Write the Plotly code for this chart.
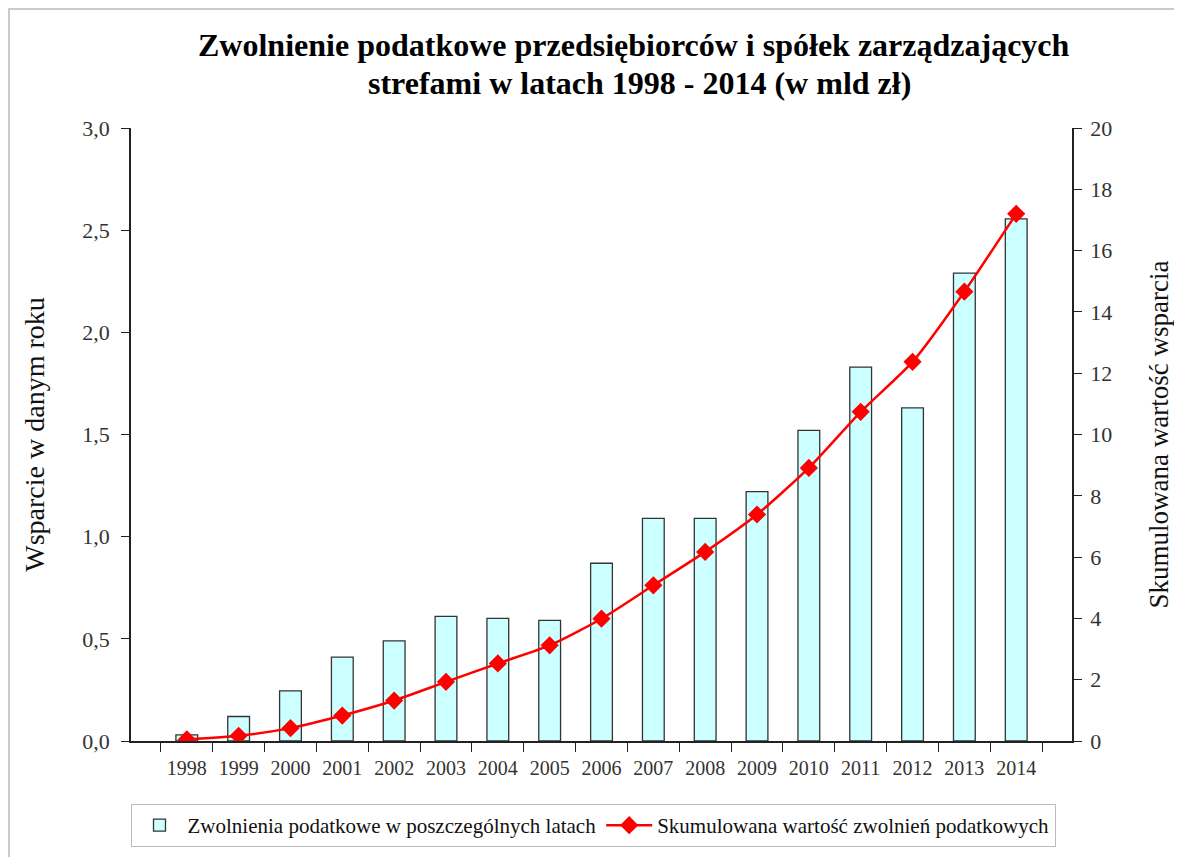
import plotly.graph_objects as go

years = [str(y) for y in range(1998, 2015)]
annual = [0.03, 0.12, 0.245, 0.41, 0.49, 0.61, 0.60, 0.59, 0.87, 1.09, 1.09, 1.22, 1.52, 1.83, 1.63, 2.29, 2.555]
cumulative = [0.05, 0.17, 0.42, 0.83, 1.32, 1.93, 2.53, 3.12, 3.99, 5.08, 6.17, 7.39, 8.91, 10.74, 12.37, 14.66, 17.2]

left_ticks = [0, 0.5, 1.0, 1.5, 2.0, 2.5, 3.0]
left_labels = ["0,0", "0,5", "1,0", "1,5", "2,0", "2,5", "3,0"]
right_ticks = list(range(0, 21, 2))

title_lines = ["Zwolnienie podatkowe przedsiębiorców i spółek zarządzających",
               "strefami w latach 1998 - 2014 (w mld zł)"]

FONT = "Liberation Serif"

OFF = 8  # page body margin
W, H = 1182 - 2 * OFF, 865 - 2 * OFF
L, R, T, B = 131 - OFF, 1072 - OFF, 128 - OFF, 741 - OFF
pw, ph = R - L, B - T

def px(x):
    return (x - OFF - L) / pw

def py(y):
    return (B - (y - OFF)) / ph

fig = go.Figure()
fig.add_trace(go.Bar(
    x=years, y=annual, name="Zwolnienia podatkowe w poszczególnych latach",
    marker=dict(color="#CCFFFF", line=dict(color="#333333", width=1.3)),
    yaxis="y",
))
fig.add_trace(go.Scatter(
    x=years, y=cumulative, name="Skumulowana wartość zwolnień podatkowych",
    mode="lines+markers",
    line=dict(color="#FF0000", width=2.5, shape="spline", smoothing=0.6),
    marker=dict(symbol="diamond", size=14, color="#FF0000"),
    yaxis="y2",
))

annotations = [
    dict(text="<b>%s</b>" % title_lines[0], xref="paper", yref="paper",
         x=px(634), y=py(45), xanchor="center", yanchor="middle", showarrow=False,
         font=dict(family=FONT, size=32, color="#000000")),
    dict(text="<b>%s</b>" % title_lines[1], xref="paper", yref="paper",
         x=px(639), y=py(83), xanchor="center", yanchor="middle", showarrow=False,
         font=dict(family=FONT, size=32, color="#000000")),
]

fig.update_layout(
    width=W, height=H,
    margin=dict(l=L, r=W - R, t=T, b=H - B, autoexpand=False),
    paper_bgcolor="white", plot_bgcolor="white",
    font=dict(family=FONT, color="#222222", size=18),
    annotations=annotations,
    bargap=0.58,
    showlegend=True,
    legend=dict(
        orientation="h", x=px(593), xanchor="center", y=py(804), yanchor="top",
        font=dict(family=FONT, size=21, color="#111111"),
        bordercolor="#BBBBBB", borderwidth=1, bgcolor="white",
        itemwidth=46, traceorder="normal",
    ),
    xaxis=dict(
        type="category", showline=True, linecolor="#222222", linewidth=1.5,
        ticks="outside", ticklen=9, tickcolor="#222222", tickson="boundaries",
        tickfont=dict(size=20, color="#333333"), showgrid=False,
        ticklabelstandoff=8,
    ),
    yaxis=dict(
        range=[0, 3.0], tickvals=left_ticks, ticktext=left_labels,
        showline=True, linecolor="#222222", linewidth=1.5,
        ticks="outside", ticklen=8, tickcolor="#222222",
        tickfont=dict(size=22, color="#333333"), showgrid=False, zeroline=False,
        ticklabelstandoff=7,
        title=dict(text="Wsparcie w danym roku", font=dict(size=28, color="#111111"), standoff=30),
    ),
    yaxis2=dict(
        range=[0, 20], tickvals=right_ticks, overlaying="y", side="right",
        showline=True, linecolor="#222222", linewidth=1.5,
        ticks="outside", ticklen=8, tickcolor="#222222",
        tickfont=dict(size=22, color="#333333"), showgrid=False, zeroline=False,
        ticklabelstandoff=4,
        title=dict(text="Skumulowana wartość wsparcia", font=dict(size=27, color="#111111"), standoff=38),
    ),
    shapes=[dict(
        type="rect", xref="paper", yref="paper",
        x0=px(9), x1=px(1176), y0=py(858), y1=py(9),
        line=dict(color="#BBBBBB", width=1.5), fillcolor="rgba(0,0,0,0)", layer="below",
    )],
)

fig.write_html("out.html")
